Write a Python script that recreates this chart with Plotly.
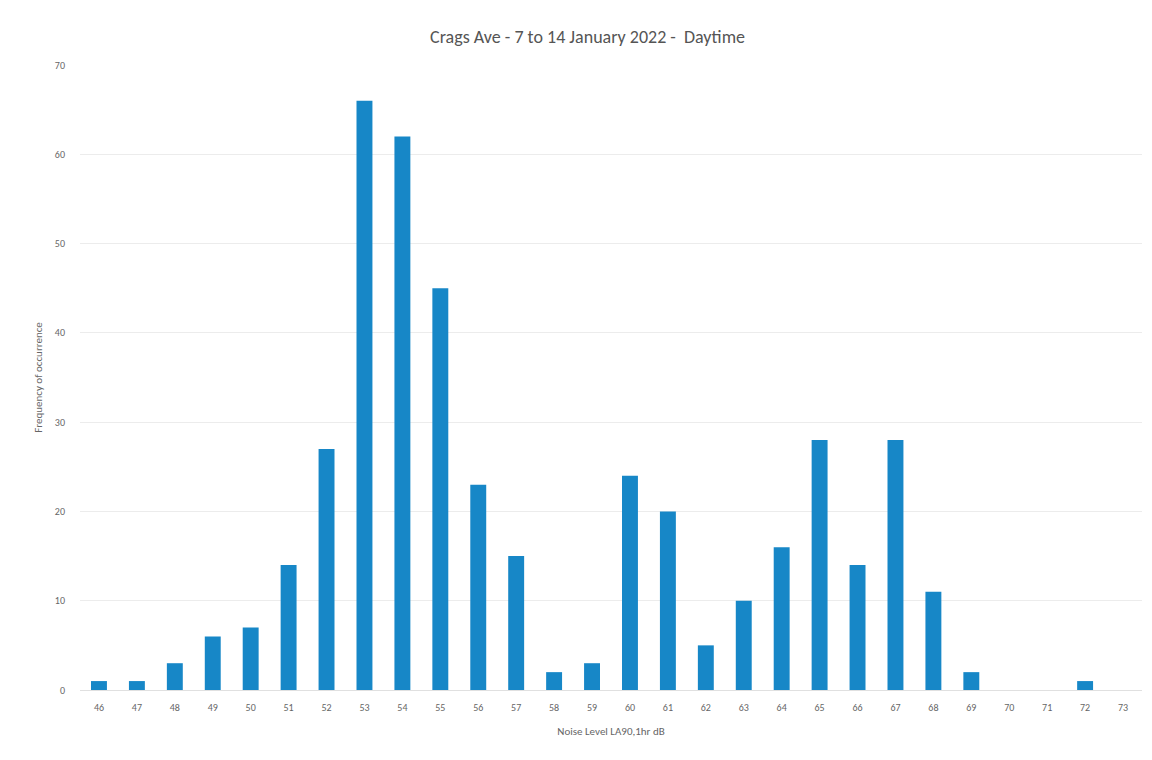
import plotly.graph_objects as go

noise_levels = [str(v) for v in range(46, 74)]
frequency = [1, 1, 3, 6, 7, 14, 27, 66, 62, 45, 23, 15, 2, 3, 24, 20, 5, 10, 16, 28, 14, 28, 11, 2, 0, 0, 1, 0]
y_ticks = [0, 10, 20, 30, 40, 50, 60, 70]

fig = go.Figure()
fig.add_trace(go.Bar(
    x=noise_levels, y=frequency,
    marker=dict(color="#1787c7", line=dict(width=0)),
    width=0.42,
))

font_family = "Carlito, Calibri, 'Open Sans', Lato, sans-serif"
fig.update_layout(
    width=1152, height=760,
    margin=dict(l=80, r=10, t=65, b=70),
    paper_bgcolor="white", plot_bgcolor="white",
    title=dict(text="Crags Ave - 7 to 14 January 2022 -  Daytime",
               x=0.51, xanchor="center", y=0.952, yanchor="middle",
               font=dict(family=font_family, size=18, color="#555555")),
    showlegend=False,
    font=dict(family=font_family, color="#666666"),
)
fig.update_xaxes(
    type="category", tickfont=dict(size=10, color="#666666"),
    showgrid=False, showline=True, linecolor="#e0e0e0", linewidth=1,
    ticks="", ticklabelstandoff=8,
    title=dict(text="Noise Level LA90,1hr dB", font=dict(size=11, color="#666666"), standoff=14),
)
fig.update_yaxes(
    range=[0, 70], tickvals=y_ticks, tickfont=dict(size=10, color="#666666"),
    showgrid=True, gridcolor="#ececec", gridwidth=1, zeroline=False,
    ticks="", ticklabelstandoff=14,
    title=dict(text="Frequency of occurrence", font=dict(size=11, color="#666666"), standoff=10),
)
fig.write_html("out.html")
